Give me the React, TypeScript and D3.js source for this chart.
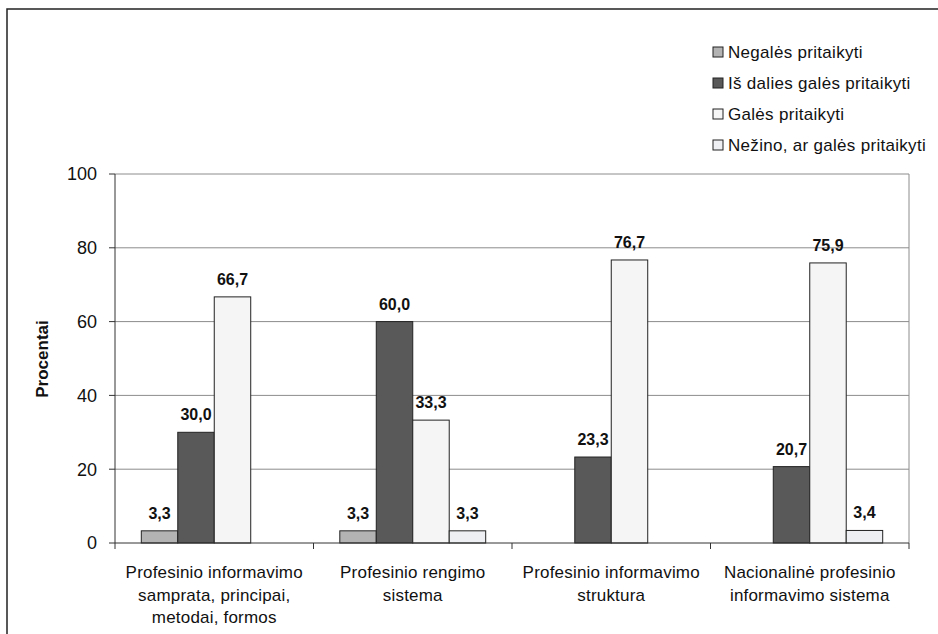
import React from "react";
import * as d3 from "d3";

const categories: string[][] = [
  ["Profesinio informavimo", "samprata, principai,", "metodai, formos"],
  ["Profesinio rengimo", "sistema"],
  ["Profesinio informavimo", "struktura"],
  ["Nacionalinė profesinio", "informavimo sistema"],
];
const seriesNames = [
  "Negalės pritaikyti",
  "Iš dalies galės pritaikyti",
  "Galės pritaikyti",
  "Nežino, ar galės pritaikyti",
];
const negales: (number | null)[] = [3.3, 3.3, null, null];
const isDalies: (number | null)[] = [30.0, 60.0, 23.3, 20.7];
const gales: (number | null)[] = [66.7, 33.3, 76.7, 75.9];
const nezino: (number | null)[] = [null, 3.3, null, 3.4];
const yTicks = [0, 20, 40, 60, 80, 100];

const seriesValues = [negales, isDalies, gales, nezino];
const colors = ["#b3b3b3", "#595959", "#f5f5f5", "#eeeff2"];

export default function App() {
  const W = 938, H = 634;
  const left = 115, right = 909, top = 174, bottom = 543;
  const font = "'Liberation Sans', Arial, sans-serif";

  const x0 = d3.scaleBand<number>().domain(categories.map((_, i) => i)).range([left, right]).paddingInner(0.265).paddingOuter(0.1325);
  const x1 = d3.scaleBand<number>().domain(seriesNames.map((_, i) => i)).range([0, x0.bandwidth()]);
  const catScale = d3.scaleBand<number>().domain(categories.map((_, i) => i)).range([left, right]);
  const y = d3.scaleLinear().domain([0, 100]).range([bottom, top]);

  const fmt = (v: number) => v.toFixed(1).replace(".", ",");

  return (
    <svg width={W} height={H} style={{ position: "absolute", left: 0, top: 0, background: "#fff" }}>
      <rect x={7} y={9} width={W + 20} height={H + 20} fill="#fff" stroke="#222" strokeWidth={1.5} />
      {yTicks.filter((t) => t > 0).map((t) => (
        <line key={t} x1={left} x2={right} y1={y(t)} y2={y(t)} stroke="#8c8c8c" strokeWidth={1} />
      ))}
      <line x1={right} x2={right} y1={top} y2={bottom} stroke="#8c8c8c" strokeWidth={1} />
      {seriesValues.map((vals, s) =>
        vals.map((v, c) => {
          if (v === null) return null;
          const bx = (x0(c) as number) + (x1(s) as number);
          return (
            <g key={`${s}-${c}`}>
              <rect x={bx} y={y(v)} width={x1.bandwidth()} height={bottom - y(v)} fill={colors[s]} stroke="#222" strokeWidth={1} />
              <text x={bx + x1.bandwidth() / 2} y={y(v) - 12} textAnchor="middle" fontFamily={font} fontWeight="bold" fontSize={16} fill="#111">
                {fmt(v)}
              </text>
            </g>
          );
        })
      )}
      <line x1={left} x2={left} y1={top} y2={bottom} stroke="#333" strokeWidth={1} />
      <line x1={left} x2={right} y1={bottom} y2={bottom} stroke="#333" strokeWidth={1} />
      {yTicks.map((t) => (
        <g key={t}>
          <line x1={left - 6} x2={left} y1={y(t)} y2={y(t)} stroke="#333" />
          <text x={97} y={y(t)} dy="0.36em" textAnchor="end" fontFamily={font} fontSize={18} fill="#111">
            {t}
          </text>
        </g>
      ))}
      {categories.map((_, i) => (
        <line key={i} x1={catScale(i) as number} x2={catScale(i) as number} y1={bottom} y2={bottom + 6} stroke="#333" />
      ))}
      <line x1={right} x2={right} y1={bottom} y2={bottom + 6} stroke="#333" />
      {categories.map((lines, i) => (
        <text key={i} textAnchor="middle" fontFamily={font} fontSize={17} letterSpacing={0.2} fill="#111">
          {lines.map((l, j) => (
            <tspan key={j} x={(catScale(i) as number) + catScale.bandwidth() / 2} y={578 + j * 22.5}>
              {l}
            </tspan>
          ))}
        </text>
      ))}
      <text transform={`translate(48,${359}) rotate(-90)`} textAnchor="middle" fontFamily={font} fontWeight="bold" fontSize={17} fill="#111">
        Procentai
      </text>
      {seriesNames.map((n, i) => (
        <g key={n} transform={`translate(713,${52 + i * 31})`}>
          <rect x={0} y={-5} width={10} height={10} fill={colors[i]} stroke="#222" strokeWidth={1} />
          <text x={15} y={0} dy="0.36em" fontFamily={font} fontSize={17} letterSpacing={0.3} fill="#111">
            {n}
          </text>
        </g>
      ))}
    </svg>
  );
}
